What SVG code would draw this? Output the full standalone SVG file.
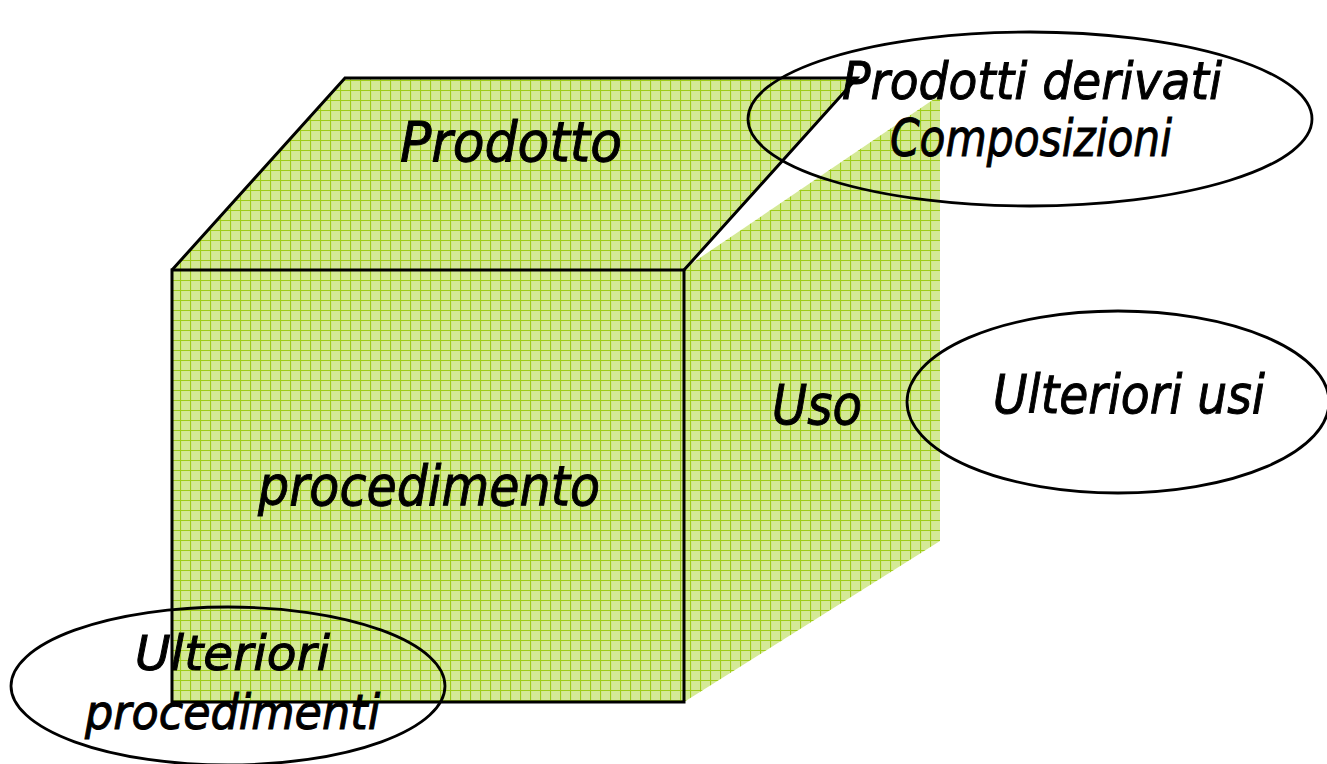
<svg xmlns="http://www.w3.org/2000/svg" width="1327" height="764" viewBox="0 0 1327 764">
  <defs>
    <!-- fine graph-paper fill used on every face of the cube -->
    <pattern id="grid" width="10" height="10" patternUnits="userSpaceOnUse">
      <rect width="10" height="10" fill="#d4e996"/>
      <path d="M0 0.5H10M0.5 0V10" stroke="#9fcc1a" stroke-width="1.2"/>
    </pattern>
  </defs>
  <style>
    .face { fill: url(#grid); }
    .edge { fill: none; stroke: #000; stroke-width: 3; stroke-linejoin: miter; }
    .bubble { fill: none; stroke: #000; stroke-width: 2.8; }
    .lbl { font-family: "DejaVu Sans", "Noto Sans", sans-serif; font-style: italic; fill: #000; stroke: #000; stroke-width: 1; }
  </style>

  <rect width="1327" height="764" fill="#fff"/>

  <!-- right face (no outline) -->
  <g id="face-uso">
    <polygon class="face" points="682,270 940,95 940,541 684,702"/>
  </g>

  <!-- top face -->
  <g id="face-prodotto">
    <polygon class="face" points="172,270 345,78 857,78 684,270"/>
    <polyline class="edge" points="172,270 345,78 857,78 684,270" stroke-width="2.5"/>
  </g>

  <!-- front face -->
  <g id="face-procedimento">
    <rect class="face" x="172" y="270" width="512" height="432"/>
    <rect class="edge" x="172" y="270" width="512" height="432"/>
  </g>

  <!-- outlined bubbles -->
  <g id="bubble-derivati">
    <ellipse class="bubble" cx="1030" cy="119" rx="282" ry="87"/>
  </g>
  <g id="bubble-usi">
    <ellipse class="bubble" cx="1118" cy="402" rx="211" ry="91"/>
  </g>
  <g id="bubble-procedimenti">
    <ellipse class="bubble" cx="228" cy="686" rx="217" ry="79"/>
  </g>

  <!-- labels -->
  <g id="labels">
    <text class="lbl" x="400" y="161" font-size="56" textLength="222" lengthAdjust="spacingAndGlyphs">Prodotto</text>
    <text class="lbl" x="258" y="505" font-size="56" textLength="342" lengthAdjust="spacingAndGlyphs">procedimento</text>
    <text class="lbl" x="772" y="424" font-size="56" textLength="90" lengthAdjust="spacingAndGlyphs">Uso</text>
    <text class="lbl" x="842" y="99" font-size="52" textLength="380" lengthAdjust="spacingAndGlyphs">Prodotti derivati</text>
    <text class="lbl" x="890" y="156" font-size="52" textLength="282" lengthAdjust="spacingAndGlyphs">Composizioni</text>
    <text class="lbl" x="993" y="413" font-size="54" textLength="272" lengthAdjust="spacingAndGlyphs">Ulteriori usi</text>
    <text class="lbl" x="135" y="670" font-size="48" textLength="195" lengthAdjust="spacingAndGlyphs">Ulteriori</text>
    <text class="lbl" x="85" y="729" font-size="48" textLength="295" lengthAdjust="spacingAndGlyphs">procedimenti</text>
  </g>
</svg>
